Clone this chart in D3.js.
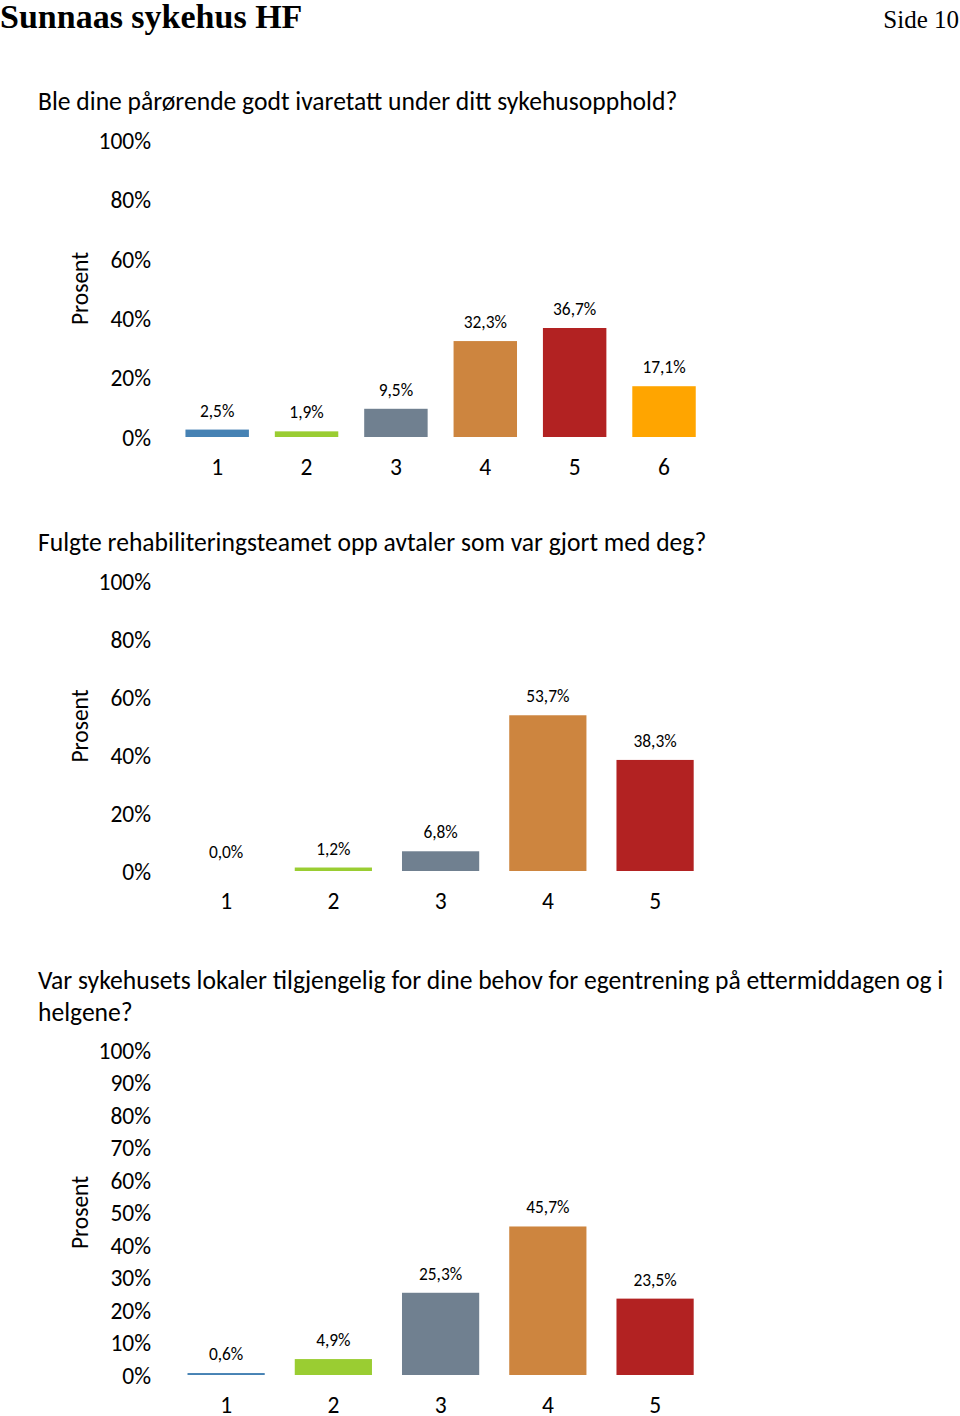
<!DOCTYPE html>
<html>
<head>
<meta charset="utf-8">
<script src="https://cdn.jsdelivr.net/npm/d3@7"></script>
<style>
  body { margin: 0; background: #fff; }
  .lbl { font-family: Carlito, Calibri, Lato, "Liberation Sans", sans-serif; fill: #000; }
</style>
</head>
<body>
<div id="page"></div>
<script>
'use strict';

// chart 1
const cats1 = ["1", "2", "3", "4", "5", "6"];
const vals1 = [2.5, 1.9, 9.5, 32.3, 36.7, 17.1];
const ticks1 = [0, 20, 40, 60, 80, 100];
const colors1 = ["steelblue", "yellowgreen", "slategray", "peru", "firebrick", "orange"];
const title1 = ["Ble dine pårørende godt ivaretatt under ditt sykehusopphold?"];

// chart 2
const cats2 = ["1", "2", "3", "4", "5"];
const vals2 = [0.0, 1.2, 6.8, 53.7, 38.3];
const ticks2 = [0, 20, 40, 60, 80, 100];
const colors2 = ["steelblue", "yellowgreen", "slategray", "peru", "firebrick"];
const title2 = ["Fulgte rehabiliteringsteamet opp avtaler som var gjort med deg?"];

// chart 3
const cats3 = ["1", "2", "3", "4", "5"];
const vals3 = [0.6, 4.9, 25.3, 45.7, 23.5];
const ticks3 = [0, 10, 20, 30, 40, 50, 60, 70, 80, 90, 100];
const colors3 = ["steelblue", "yellowgreen", "slategray", "peru", "firebrick"];
const title3 = ["Var sykehusets lokaler tilgjengelig for dine behov for egentrening på ettermiddagen og i", "helgene?"];

const no = d3.formatLocale({decimal: ",", thousands: " ", grouping: [3], currency: ["", " kr"]});
const pct1 = no.format(".1f");

let svg = d3.select('#page').append('svg').attr('width', 960).attr('height', 1416);

// page header
svg.append('text')
  .attr('x', 0).attr('y', 28)
  .style('font-family', '"Liberation Serif", "Times New Roman", serif')
  .style('font-weight', 'bold')
  .style('font-size', '34px')
  .text("Sunnaas sykehus HF");

svg.append('text')
  .attr('x', 959).attr('y', 28)
  .attr('text-anchor', 'end')
  .style('font-family', '"Liberation Serif", "Times New Roman", serif')
  .style('font-size', '25px')
  .text("Side 10");

function drawChart(opt) {
  let g = svg.append('g');

  opt.title.forEach((line, i) => {
    g.append('text').attr('class', 'lbl')
      .attr('x', 38).attr('y', opt.titleY + i * 32)
      .style('font-size', '25.6px')
      .text(line);
  });

  let yScale = d3.scaleLinear().domain([0, 100]).range([opt.y0, opt.y1]);
  let xScale = d3.scaleBand()
    .domain(opt.cats)
    .range([172.5, 708.7])
    .paddingInner(opt.pad)
    .paddingOuter(opt.pad / 2);

  let yAxis = d3.axisLeft(yScale).tickValues(opt.ticks).tickSize(0).tickPadding(0)
    .tickFormat(d => d + "%");
  let ya = g.append('g').attr('transform', 'translate(151, 0)').call(yAxis);
  ya.select('.domain').remove();
  ya.selectAll('text')
    .attr('class', 'lbl')
    .attr('dy', '0.35em')
    .style('font-size', '23.5px');

  let xAxis = d3.axisBottom(xScale).tickSize(0).tickPadding(0);
  let xa = g.append('g').attr('transform', `translate(0, ${opt.y0 + 38})`).call(xAxis);
  xa.select('.domain').remove();
  xa.selectAll('text')
    .attr('class', 'lbl')
    .attr('dy', 0)
    .style('font-size', '23.5px');

  g.append('text').attr('class', 'lbl')
    .attr('transform', `translate(88, ${(opt.y0 + opt.y1) / 2})rotate(-90)`)
    .attr('text-anchor', 'middle')
    .style('font-size', '23.5px')
    .text("Prosent");

  let data = opt.cats.map((c, i) => ({cat: c, val: opt.vals[i], color: opt.colors[i]}));

  g.selectAll('.bar')
    .data(data)
    .enter()
    .append('rect')
      .attr('x', d => xScale(d.cat))
      .attr('y', d => yScale(d.val))
      .attr('width', xScale.bandwidth())
      .attr('height', d => opt.y0 - yScale(d.val))
      .attr('fill', d => d.color);

  g.selectAll('.val')
    .data(data)
    .enter()
    .append('text')
      .attr('class', 'lbl')
      .attr('x', d => xScale(d.cat) + xScale.bandwidth() / 2)
      .attr('y', d => yScale(d.val) - 13)
      .attr('text-anchor', 'middle')
      .style('font-size', '17.4px')
      .text(d => pct1(d.val) + "%");
}

drawChart({title: title1, titleY: 110, cats: cats1, vals: vals1, ticks: ticks1, colors: colors1,
  y0: 437, y1: 140, pad: 0.29});
drawChart({title: title2, titleY: 551, cats: cats2, vals: vals2, ticks: ticks2, colors: colors2,
  y0: 871, y1: 581, pad: 0.28});
drawChart({title: title3, titleY: 989, cats: cats3, vals: vals3, ticks: ticks3, colors: colors3,
  y0: 1375, y1: 1050, pad: 0.28});
</script>
</body>
</html>
